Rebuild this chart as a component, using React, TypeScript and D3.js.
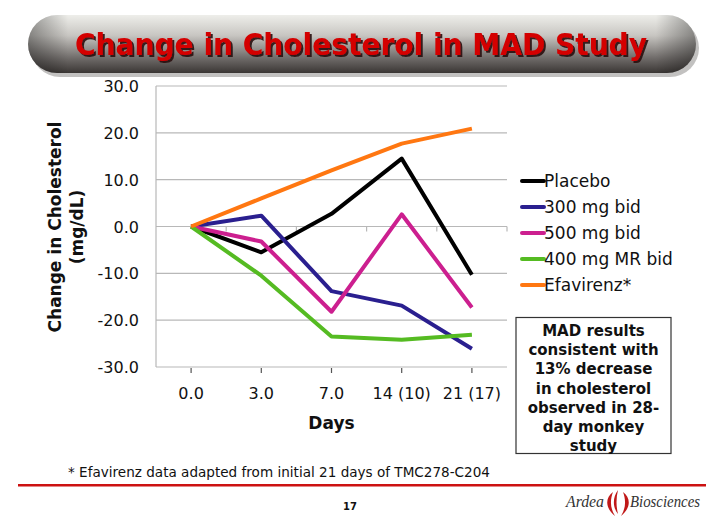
import React from "react";
import * as d3 from "d3";

const days = ["0.0", "3.0", "7.0", "14 (10)", "21 (17)"];
const placebo = [0, -5.5, 2.7, 14.5, -10.3];
const mg300 = [0, 2.3, -13.8, -16.9, -26.1];
const mg500 = [0, -3.2, -18.2, 2.6, -17.3];
const mr400 = [0, -10.5, -23.5, -24.2, -23.1];
const efavirenz = [0, 6.0, 12.0, 17.7, 20.9];
const yTicks = [30, 20, 10, 0, -10, -20, -30];

const series = [
  { name: "Placebo", values: placebo, color: "#000000" },
  { name: "300 mg bid", values: mg300, color: "#2a1f8f" },
  { name: "500 mg bid", values: mg500, color: "#cc1f8f" },
  { name: "400 mg MR bid", values: mr400, color: "#55bb22" },
  { name: "Efavirenz*", values: efavirenz, color: "#ff7711" },
];

const boxLines = [
  "MAD results",
  "consistent with",
  "13% decrease",
  "in cholesterol",
  "observed in 28-",
  "day monkey",
  "study",
];

export default function App() {
  const left = 156, right = 507, top = 86, bottom = 367;
  const x = d3.scaleBand<string>().domain(days).range([left, right]);
  const y = d3.scaleLinear().domain([-30, 30]).range([bottom, top]);
  const cx = (d: string) => (x(d) as number) + x.bandwidth() / 2;
  const line = d3
    .line<number>()
    .x((_, i) => cx(days[i]))
    .y((v) => y(v));
  const font = "'DejaVu Sans', Verdana, sans-serif";
  const boundaries = days.map((d) => (x(d) as number) + x.bandwidth());

  return (
    <svg width={720} height={530} style={{ position: "absolute", left: 0, top: 0 }}>
      <defs>
        <linearGradient id="pill" x1="0" y1="0" x2="0" y2="1">
          <stop offset="0" stopColor="#eeeeea" />
          <stop offset="0.35" stopColor="#c8c6c2" />
          <stop offset="0.75" stopColor="#6e6a68" />
          <stop offset="1" stopColor="#3a3634" />
        </linearGradient>
        <linearGradient id="pillEdge" x1="0" y1="0" x2="1" y2="0">
          <stop offset="0" stopColor="#000" stopOpacity="0.35" />
          <stop offset="0.06" stopColor="#000" stopOpacity="0" />
          <stop offset="0.94" stopColor="#000" stopOpacity="0" />
          <stop offset="1" stopColor="#000" stopOpacity="0.35" />
        </linearGradient>
        <filter id="tshadow" x="-5%" y="-20%" width="110%" height="150%">
          <feDropShadow dx="2" dy="2" stdDeviation="0.6" floodColor="#2a0808" floodOpacity="0.9" />
        </filter>
      </defs>
      <rect x={0} y={0} width={720} height={530} fill="#ffffff" />
      {/* title banner */}
      <rect x={31} y={19} width={668} height={58} rx={29} fill="#9a9896" opacity={0.6} />
      <rect x={28} y={15} width={668} height={58} rx={29} fill="url(#pill)" />
      <rect x={28} y={15} width={668} height={58} rx={29} fill="url(#pillEdge)" />
      <text x={361} y={55} textAnchor="middle" fontFamily="'DejaVu Sans Condensed', 'DejaVu Sans', sans-serif" fontWeight="bold" fontSize={30} fill="#d40000" textLength={572} lengthAdjust="spacingAndGlyphs" filter="url(#tshadow)">
        Change in Cholesterol in MAD Study
      </text>

      {/* gridlines */}
      {yTicks.map((t) => (
        <line key={t} x1={left} x2={right} y1={y(t)} y2={y(t)} stroke="#b8b8b8" strokeWidth={1.2} />
      ))}
      <line x1={left} x2={left} y1={top} y2={bottom} stroke="#b8b8b8" strokeWidth={1.2} />
      {boundaries.map((b, i) => (
        <line key={"b" + i} x1={b} x2={b} y1={y(0)} y2={y(0) + 5} stroke="#b8b8b8" strokeWidth={1.2} />
      ))}
      {days.map((d) => (
        <line key={"c" + d} x1={cx(d)} x2={cx(d)} y1={bottom + 1} y2={bottom + 6} stroke="#555" strokeWidth={1.2} />
      ))}
      {yTicks.map((t) => (
        <text key={"l" + t} x={139} y={y(t) + 6} textAnchor="end" fontFamily={font} fontSize={16} fill="#111">
          {t.toFixed(1)}
        </text>
      ))}
      {days.map((d) => (
        <text key={"x" + d} x={cx(d)} y={399} textAnchor="middle" fontFamily={font} fontSize={16} fill="#111">
          {d}
        </text>
      ))}
      <text x={cx(days[2])} y={429} textAnchor="middle" fontFamily={font} fontWeight="bold" fontSize={17} fill="#111">
        Days
      </text>
      <g transform={`translate(61, 227) rotate(-90)`}>
        <text x={0} y={0} textAnchor="middle" fontFamily={font} fontWeight="bold" fontSize={17} fill="#111">
          Change in Cholesterol
        </text>
        <text x={0} y={22} textAnchor="middle" fontFamily={font} fontWeight="bold" fontSize={17} fill="#111">
          (mg/dL)
        </text>
      </g>

      {/* lines */}
      {series.map((s) => (
        <path key={s.name} d={line(s.values) as string} fill="none" stroke={s.color} strokeWidth={4} strokeLinejoin="round" />
      ))}

      {/* legend */}
      {series.map((s, i) => (
        <g key={"lg" + s.name} transform={`translate(522, ${181 + i * 26})`}>
          <line x1={0} x2={22} y1={0} y2={0} stroke={s.color} strokeWidth={4} strokeLinecap="round" />
          <text x={22} y={6} fontFamily={font} fontSize={17} fill="#111">
            {s.name}
          </text>
        </g>
      ))}

      {/* note box */}
      <rect x={516} y={317.5} width={155} height={136} fill="#fff" stroke="#333" strokeWidth={1.2} />
      {boxLines.map((l, i) => (
        <text key={"bx" + i} x={593.5} y={336 + i * 19.2} textAnchor="middle" fontFamily={font} fontWeight="bold" fontSize={15} fill="#111">
          {l}
        </text>
      ))}

      {/* footer */}
      <text x={68} y={477} fontFamily={font} fontSize={14} fill="#111" textLength={422} lengthAdjust="spacingAndGlyphs">
        * Efavirenz data adapted from initial 21 days of TMC278-C204
      </text>
      <rect x={18} y={484} width={688} height={2.5} fill="#cc1111" />
      <text x={350} y={510} textAnchor="middle" fontFamily={font} fontWeight="bold" fontSize={10} fill="#111">
        17
      </text>
      <text x={566} y={507} fontFamily="'Liberation Serif', serif" fontStyle="italic" fontSize={16} fill="#333" textLength={38} lengthAdjust="spacingAndGlyphs">
        Ardea
      </text>
      <g fill="#c01818">
        <path d="M613,492 C605,498 605,508 615,516 C610,508 610,500 613,492 Z" />
        <path d="M618,490 C612,498 613,508 618,514 C616,506 616,498 618,490 Z" />
        <path d="M623,492 C631,498 631,508 621,516 C626,508 626,500 623,492 Z" />
      </g>
      <text x={630} y={507} fontFamily="'Liberation Serif', serif" fontStyle="italic" fontSize={16} fill="#333" textLength={70} lengthAdjust="spacingAndGlyphs">
        Biosciences
      </text>
    </svg>
  );
}
